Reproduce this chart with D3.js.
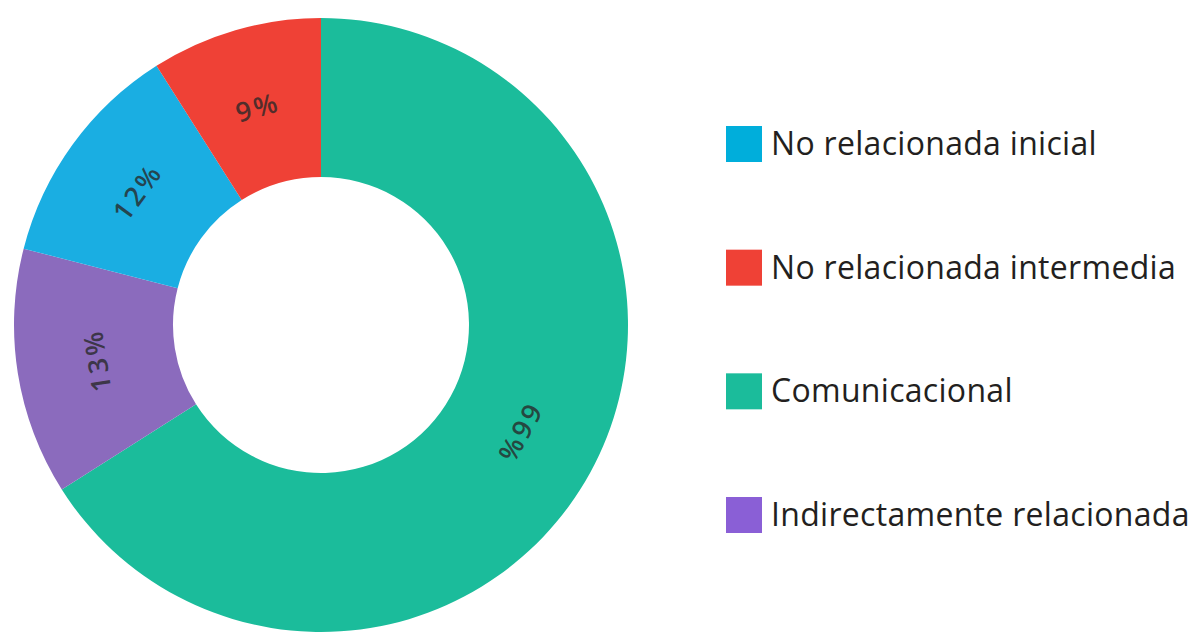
<!DOCTYPE html>
<html>
<head>
<meta charset="utf-8">
<script src="https://cdn.jsdelivr.net/npm/d3@7"></script>
<style>
  html, body { margin: 0; padding: 0; background: #fff; }
  svg { display: block; }
</style>
</head>
<body>
<svg id="chart" width="1191" height="634"></svg>
<script>
const categories = ["Comunicacional", "Indirectamente relacionada", "No relacionada inicial", "No relacionada intermedia"];
const values = [66, 13, 12, 9];
const sliceColors = ["#1bbc9b", "#8b6bbd", "#1aaee2", "#ef4136"];
const legendOrder = ["No relacionada inicial", "No relacionada intermedia", "Comunicacional", "Indirectamente relacionada"];
const legendColors = ["#00aedb", "#ef4136", "#1bbc9b", "#8a5fd6"];

const svg = d3.select("#chart");
const cx = 321, cy = 325, outerR = 307, innerR = 148;

const data = categories.map((c, i) => ({ name: c, value: values[i], color: sliceColors[i] }));
const pie = d3.pie().value(d => d.value).sort(null);
const arc = d3.arc().innerRadius(innerR).outerRadius(outerR);
const arcs = pie(data);

const g = svg.append("g").attr("transform", `translate(${cx},${cy})`);
g.selectAll("path.slice").data(arcs).join("path")
  .attr("class", "slice")
  .attr("d", arc)
  .attr("fill", d => d.data.color);

const labelR = (innerR + outerR) / 2;
g.selectAll("text.lbl").data(arcs).join("text")
  .attr("class", "lbl")
  .attr("transform", d => {
    const a = (d.startAngle + d.endAngle) / 2;
    const x = Math.sin(a) * labelR, y = -Math.cos(a) * labelR;
    return `translate(${x},${y}) rotate(${a * 180 / Math.PI})`;
  })
  .attr("text-anchor", "middle")
  .attr("dominant-baseline", "central")
  .attr("font-family", "'Open Sans', sans-serif")
  .attr("font-size", 27)
  .attr("font-weight", 600)
  .attr("letter-spacing", 3)
  .attr("fill", "rgba(40,40,40,0.78)")
  .text(d => d.data.value + "%");

const ly = d3.scalePoint().domain(legendOrder).range([144, 515]);
const lg = svg.append("g");
const items = lg.selectAll("g").data(legendOrder).join("g")
  .attr("transform", d => `translate(726,${ly(d)})`);
items.append("rect")
  .attr("x", 0).attr("y", -18).attr("width", 36).attr("height", 36)
  .attr("fill", (d, i) => legendColors[i]);
items.append("text")
  .attr("x", 45).attr("y", 11)
  .attr("font-family", "'Open Sans', sans-serif")
  .attr("font-size", 32)
  .attr("letter-spacing", 0.3)
  .attr("fill", "#231f20")
  .text(d => d);
</script>
</body>
</html>
